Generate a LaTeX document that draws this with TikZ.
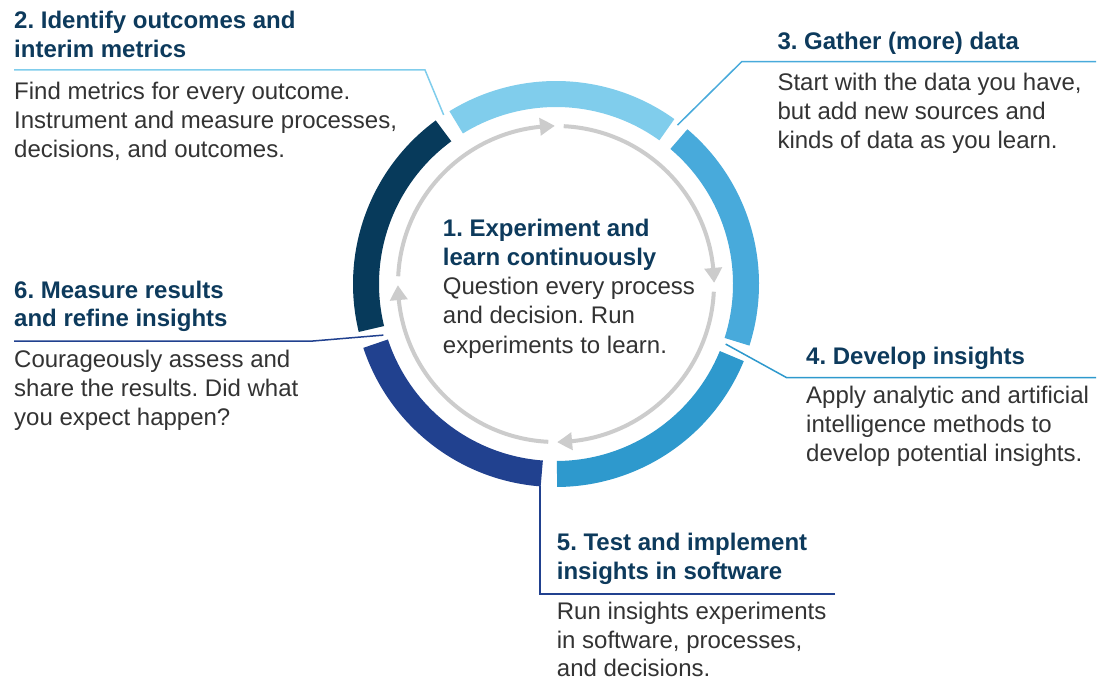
\documentclass[tikz,border=0pt]{standalone}
\usepackage{fontspec}
\setmainfont{Liberation Sans}
\usetikzlibrary{arrows.meta,bending}
\definecolor{segA}{HTML}{80CDEC}
\definecolor{segB}{HTML}{48AADB}
\definecolor{segC}{HTML}{2E99CD}
\definecolor{segD}{HTML}{21418F}
\definecolor{segE}{HTML}{073A5B}
\definecolor{headc}{HTML}{0D3A5C}
\definecolor{bodyc}{HTML}{333333}
\definecolor{arrowc}{HTML}{CCCCCC}
\frenchspacing
\begin{document}
\begin{tikzpicture}[x=1pt,y=1pt,
  head/.style={anchor=base west, inner sep=0pt, align=left, text=headc,
    font=\fontsize{24}{28.5}\selectfont\bfseries\frenchspacing},
  body/.style={anchor=base west, inner sep=0pt, align=left, text=bodyc,
    font=\fontsize{24}{28.7}\selectfont\frenchspacing},
  ring/.style={line width=26pt, line cap=butt},
  lead/.style={line width=1.5pt},
  cyc/.style={draw=arrowc, line width=4pt, -{Triangle[length=15pt,width=17pt,bend]}}]
\useasboundingbox[fill=white] (0,0) rectangle (1099,681);

% ring segments and circular arrows
\begin{scope}[shift={(556,397)}]
  \draw[ring, segA] (54.3:190) arc[start angle=54.3, end angle=121.7, radius=190];
  \draw[ring, segB] (-17.7:190) arc[start angle=-17.7, end angle=49.7, radius=190];
  \draw[ring, segC] (-89.7:190) arc[start angle=-89.7, end angle=-22.3, radius=190];
  \draw[ring, segD] (-161.7:190) arc[start angle=-161.7, end angle=-94.3, radius=190];
  \draw[ring, segE] (126.3:190) arc[start angle=126.3, end angle=193.7, radius=190];
  \draw[cyc] (87.2:158) arc[start angle=87.2, end angle=0.4, radius=158];
  \draw[cyc] (-2.8:158) arc[start angle=-2.8, end angle=-89.6, radius=158];
  \draw[cyc] (-92.8:158) arc[start angle=-92.8, end angle=-179.6, radius=158];
  \draw[cyc] (177.2:158) arc[start angle=177.2, end angle=90.4, radius=158];
  \coordinate (e2) at (123.6:203);
  \coordinate (e3) at (52.6:200);
  \coordinate (e4) at (-19.5:180);
  \coordinate (e5) at (-94.6:203);
  \coordinate (e6) at (-163.5:180);
\end{scope}

% center
\node[head] (h1) at (442.7,416) {1. Experiment and\\learn continuously};
\node[body, font=\fontsize{24}{29.5}\selectfont\frenchspacing] (b1) at (442.7,327.7) {Question every process\\and decision. Run\\experiments to learn.};

% step 2
\node[head] (h2) at (14,623.7) {2. Identify outcomes and\\interim metrics};
\node[body] (b2) at (14,523.7) {Find metrics for every outcome.\\Instrument and measure processes,\\decisions, and outcomes.};
\coordinate (s2) at (14,611);
\coordinate (k2) at (425,611);
\draw[lead, segA] (s2) -- (k2) -- (e2);

% step 3
\node[head] (h3) at (777.3,631.7) {3. Gather (more) data};
\node[body] (b3) at (777.3,532.7) {Start with the data you have,\\but add new sources and\\kinds of data as you learn.};
\coordinate (s3) at (1096,619.3);
\coordinate (k3) at (741.7,619.3);
\draw[lead, segB] (s3) -- (k3) -- (e3);

% step 4
\node[head] (h4) at (806,316.7) {4. Develop insights};
\node[body] (b4) at (806,220) {Apply analytic and artificial\\intelligence methods to\\develop potential insights.};
\coordinate (s4) at (1096,303.3);
\coordinate (k4) at (786.7,303.3);
\draw[lead, segC] (s4) -- (k4) -- (e4);

% step 5
\node[head] (h5) at (556.7,101.7) {5. Test and implement\\insights in software};
\node[body] (b5) at (556.7,4.3) {Run insights experiments\\in software, processes,\\and decisions.};
\coordinate (s5) at (835,87);
\coordinate (k5) at (540,87);
\draw[lead, segD] (s5) -- (k5) -- (k5 |- e5);

% step 6
\node[head] (h6) at (14,354.3) {6. Measure results\\and refine insights};
\node[body] (b6) at (14,256) {Courageously assess and\\share the results. Did what\\you expect happen?};
\coordinate (s6) at (14,340);
\coordinate (k6) at (313,340);
\draw[lead, segD] (s6) -- (k6) -- (e6);
\end{tikzpicture}
\end{document}
